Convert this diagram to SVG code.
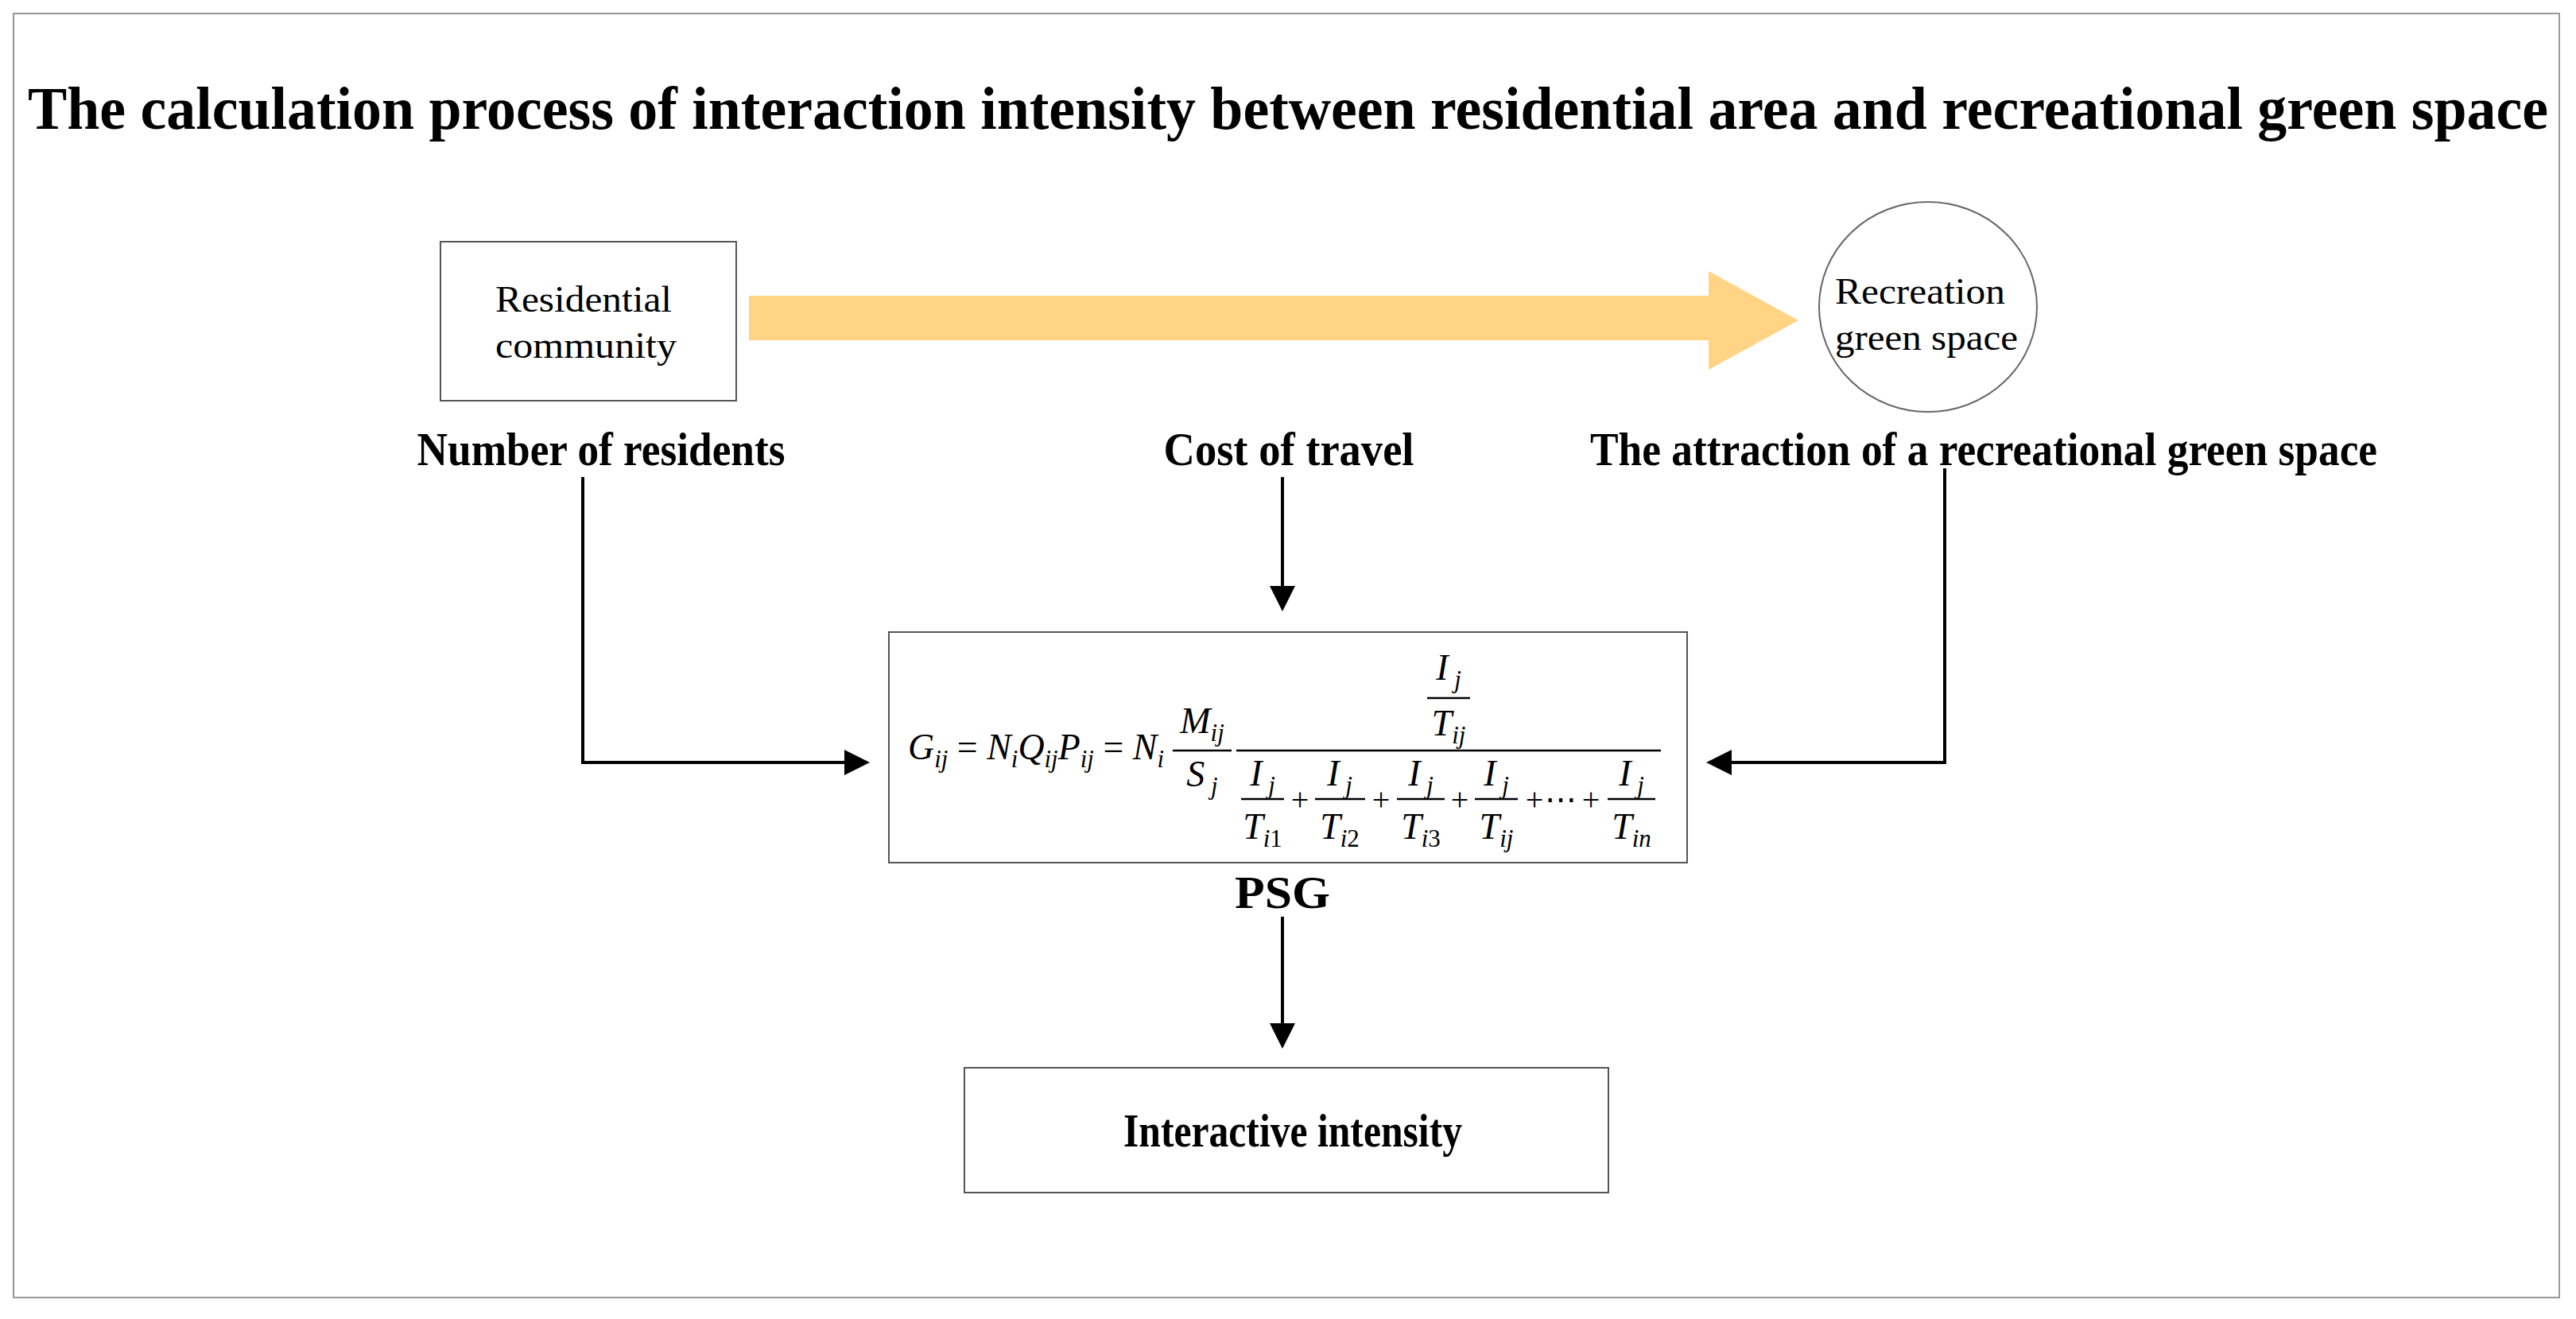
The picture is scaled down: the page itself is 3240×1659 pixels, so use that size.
<svg xmlns="http://www.w3.org/2000/svg" width="3240" height="1659" viewBox="0 0 3240 1659">
<style>
.t{font-family:"Liberation Serif","Times New Roman",serif;fill:#000}
.b{font-weight:bold}
.m{font-family:"Liberation Serif","Times New Roman",serif;font-style:italic;font-size:46px}
.s{font-size:31px}
.ln{stroke:#000;stroke-width:4;fill:none}
.fl{stroke:#000;stroke-width:2.5}
.box{fill:#fff;stroke:#555;stroke-width:2}
</style>
<defs>
<marker id="ah" markerWidth="8" markerHeight="8" refX="7" refY="4" orient="auto" markerUnits="strokeWidth"><path d="M0,0 L8,4 L0,8 z" fill="#000"/></marker>
</defs>
<rect x="0" y="0" width="3240" height="1659" fill="#fff"/>
<rect x="17" y="17" width="3202" height="1615" fill="none" stroke="#999" stroke-width="2"/>
<text class="t b" x="1620" y="162" font-size="76" text-anchor="middle" textLength="3170" lengthAdjust="spacingAndGlyphs">The calculation process of interaction intensity between residential area and recreational green space</text>
<g id="residential">
<rect class="box" x="554" y="304" width="372" height="200"/>
<text class="t" x="734" y="392" font-size="46" text-anchor="middle" textLength="222" lengthAdjust="spacingAndGlyphs">Residential</text>
<text class="t" x="737" y="450" font-size="46" text-anchor="middle" textLength="228" lengthAdjust="spacingAndGlyphs">community</text>
</g>
<g id="flow">
<path d="M942,372 H2149 V341 L2262,403 L2149,465 V428 H942 Z" fill="#ffd485"/>
</g>
<g id="green">
<ellipse cx="2425" cy="386" rx="137" ry="132" fill="#fff" stroke="#666" stroke-width="2"/>
<text class="t" x="2415" y="382" font-size="46" text-anchor="middle" textLength="214" lengthAdjust="spacingAndGlyphs">Recreation</text>
<text class="t" x="2423" y="440" font-size="46" text-anchor="middle" textLength="230" lengthAdjust="spacingAndGlyphs">green space</text>
</g>
<g id="labels">
<text class="t b" x="756" y="585" font-size="60" text-anchor="middle" textLength="463" lengthAdjust="spacingAndGlyphs">Number of residents</text>
<text class="t b" x="1621" y="585" font-size="60" text-anchor="middle" textLength="315" lengthAdjust="spacingAndGlyphs">Cost of travel</text>
<text class="t b" x="2495" y="585" font-size="60" text-anchor="middle" textLength="990" lengthAdjust="spacingAndGlyphs">The attraction of a recreational green space</text>
</g>
<g id="formula">
<rect class="box" x="1118" y="795" width="1004" height="290"/>
<text class="m" x="1142" y="955" textLength="322" lengthAdjust="spacingAndGlyphs">G<tspan class="s" dy="10">ij</tspan><tspan dy="-10" font-style="normal"> = </tspan>N<tspan class="s" dy="10">i</tspan><tspan dy="-10">Q</tspan><tspan class="s" dy="10">ij</tspan><tspan dy="-10">P</tspan><tspan class="s" dy="10">ij</tspan><tspan dy="-10" font-style="normal"> = </tspan>N<tspan class="s" dy="10">i</tspan></text>
<line class="fl" x1="1475" y1="944" x2="1549" y2="944"/>
<text class="m" x="1512" y="922" text-anchor="middle">M<tspan class="s" dy="10">ij</tspan></text>
<text class="m" x="1512" y="989" text-anchor="middle">S<tspan class="s" dy="10"> j</tspan></text>
<line class="fl" x1="1555" y1="944" x2="2089" y2="944"/>
<line class="fl" x1="1795" y1="878" x2="1849" y2="878"/>
<text class="m" x="1822" y="855" text-anchor="middle">I<tspan class="s" dy="10"> j</tspan></text>
<text class="m" x="1822" y="925" text-anchor="middle">T<tspan class="s" dy="10">ij</tspan></text>
<line class="fl" x1="1561" y1="1005" x2="1615" y2="1005"/>
<line class="fl" x1="1654" y1="1005" x2="1717" y2="1005"/>
<line class="fl" x1="1757" y1="1005" x2="1817" y2="1005"/>
<line class="fl" x1="1855" y1="1005" x2="1909" y2="1005"/>
<line class="fl" x1="2022" y1="1005" x2="2082" y2="1005"/>
<text class="m" x="1588" y="988" text-anchor="middle">I<tspan class="s" dy="10"> j</tspan></text>
<text class="m" x="1685" y="988" text-anchor="middle">I<tspan class="s" dy="10"> j</tspan></text>
<text class="m" x="1787" y="988" text-anchor="middle">I<tspan class="s" dy="10"> j</tspan></text>
<text class="m" x="1882" y="988" text-anchor="middle">I<tspan class="s" dy="10"> j</tspan></text>
<text class="m" x="2052" y="988" text-anchor="middle">I<tspan class="s" dy="10"> j</tspan></text>
<text class="m" x="1588" y="1055" text-anchor="middle">T<tspan class="s" dy="10">i</tspan><tspan class="s" font-style="normal">1</tspan></text>
<text class="m" x="1685" y="1055" text-anchor="middle">T<tspan class="s" dy="10">i</tspan><tspan class="s" font-style="normal">2</tspan></text>
<text class="m" x="1787" y="1055" text-anchor="middle">T<tspan class="s" dy="10">i</tspan><tspan class="s" font-style="normal">3</tspan></text>
<text class="m" x="1882" y="1055" text-anchor="middle">T<tspan class="s" dy="10">ij</tspan></text>
<text class="m" x="2052" y="1055" text-anchor="middle">T<tspan class="s" dy="10">in</tspan></text>
<text class="t" font-size="40" y="1019" text-anchor="middle"><tspan x="1635">+</tspan><tspan x="1737">+</tspan><tspan x="1836">+</tspan><tspan x="1930">+</tspan><tspan x="1963">⋯</tspan><tspan x="2001">+</tspan></text>
</g>
<text class="t b" x="1613" y="1142" font-size="58" text-anchor="middle" textLength="120" lengthAdjust="spacingAndGlyphs">PSG</text>
<g id="intensity">
<rect class="box" x="1213" y="1343" width="810" height="157"/>
<text class="t b" x="1626" y="1442" font-size="60" text-anchor="middle" textLength="426" lengthAdjust="spacingAndGlyphs">Interactive intensity</text>
</g>
<g id="connectors">
<path class="ln" d="M733,600 V959 H1090" marker-end="url(#ah)"/>
<path class="ln" d="M1613,600 V765" marker-end="url(#ah)"/>
<path class="ln" d="M2446,589 V959 H2150" marker-end="url(#ah)"/>
<path class="ln" d="M1613,1153 V1315" marker-end="url(#ah)"/>
</g>
</svg>
